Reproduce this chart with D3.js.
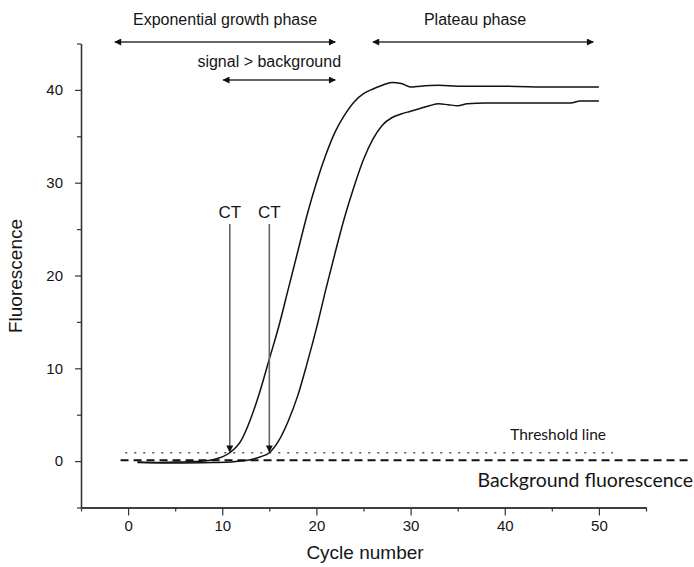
<!DOCTYPE html>
<html>
<head>
<meta charset="utf-8">
<script src="https://cdn.jsdelivr.net/npm/d3@7"></script>
<style>
  body { margin: 0; background: #fff; }
  text { font-family: "Liberation Sans", Arial, sans-serif; fill: #151515; }
</style>
</head>
<body>
<svg id="chart" width="694" height="567"></svg>
<script>
// cycle / fluorescence
const cycles1 = [1, 3, 5, 7, 8, 9, 10, 10.8, 12, 13, 14, 15, 16, 17, 18, 19, 20, 21, 22, 23, 24, 25, 26, 27, 28, 29, 30, 31, 33, 35, 40, 45, 50]
const fluor1 = [-0.1, -0.15, -0.1, -0.05, 0, 0.15, 0.45, 0.9, 2.2, 4.5, 7.5, 11, 14.5, 18.5, 22.5, 26.5, 30, 33, 35.5, 37.3, 38.7, 39.6, 40.1, 40.5, 40.8, 40.7, 40.3, 40.4, 40.5, 40.4, 40.4, 40.3, 40.3]

const cycles2 = [1, 5, 9, 11, 12, 13, 14, 15, 16, 17, 18, 19, 20, 21, 22, 23, 24, 25, 26, 27, 28, 29, 30, 31, 32, 33, 34, 35, 36, 38, 42, 47, 48, 50]
const fluor2 = [-0.15, -0.2, -0.15, -0.1, 0, 0.15, 0.45, 0.9, 2.2, 4.3, 7, 10.5, 14.3, 18.5, 22.5, 26.3, 29.6, 32.5, 34.7, 36.2, 37, 37.4, 37.7, 38, 38.3, 38.5, 38.4, 38.3, 38.5, 38.6, 38.6, 38.6, 38.8, 38.8]

const xMajor = [0, 10, 20, 30, 40, 50]
const xMinor = [-5, 5, 15, 25, 35, 45, 55]
const yMajor = [0, 10, 20, 30, 40]
const yMinor = [-5, 5, 15, 25, 35, 45]

const ctCycles = [10.8, 15]
const thresholdLevel = 0.9
const backgroundLevel = 0.1

const phaseLabels = ["Exponential growth phase", "Plateau phase", "signal > background"]
const phaseFrom = [-1.4, 26, 10.1]
const phaseTo = [22, 49.4, 22]

var svg = d3.select("#chart")

const x = d3.scaleLinear().domain([-5, 55]).range([81, 646])
const y = d3.scaleLinear().domain([-5, 45]).range([507.5, 43.5])

svg.append("rect").attr("width", 694).attr("height", 567).attr("fill", "#fff")

var defs = svg.append("defs")
defs.append("marker")
  .attr("id", "head")
  .attr("viewBox", "0 0 10 10")
  .attr("refX", 9).attr("refY", 5)
  .attr("markerWidth", 10).attr("markerHeight", 7)
  .attr("markerUnits", "userSpaceOnUse")
  .attr("orient", "auto-start-reverse")
  .append("path")
  .attr("d", "M0,0L10,5L0,10Z")
  .attr("fill", "#111")

// axes
svg.append("g").attr("transform", `translate(0,${y(-5)})`)
  .call(d3.axisBottom(x).tickValues(xMajor).tickSize(8).tickSizeOuter(0).tickPadding(5))
svg.append("g").attr("transform", `translate(0,${y(-5)})`)
  .call(d3.axisBottom(x).tickValues(xMinor).tickSize(4).tickSizeOuter(0).tickFormat(""))

svg.append("g").attr("transform", `translate(${x(-5)},0)`)
  .call(d3.axisLeft(y).tickValues(yMajor).tickSize(6).tickSizeOuter(0).tickPadding(12))
svg.append("g").attr("transform", `translate(${x(-5)},0)`)
  .call(d3.axisLeft(y).tickValues(yMinor).tickSize(4).tickSizeOuter(0).tickFormat(""))

svg.selectAll(".domain").attr("stroke", "#333").attr("stroke-width", 1.3)
svg.selectAll(".tick line").attr("stroke", "#333").attr("stroke-width", 1.2)
svg.selectAll(".tick text")
  .style("font-family", '"Liberation Sans", Arial, sans-serif')
  .style("font-size", "15px")
  .attr("fill", "#1a1a1a")

svg.append("text")
  .attr("x", 365).attr("y", 559)
  .attr("text-anchor", "middle")
  .style("font-size", "19px")
  .text("Cycle number")

svg.append("text")
  .attr("transform", "translate(22,276) rotate(-90)")
  .attr("text-anchor", "middle")
  .style("font-size", "19px")
  .text("Fluorescence")

// threshold + background
svg.append("line")
  .attr("x1", x(-0.3)).attr("x2", x(51.5))
  .attr("y1", y(thresholdLevel)).attr("y2", y(thresholdLevel))
  .attr("stroke", "#555").attr("stroke-width", 1.3)
  .attr("stroke-dasharray", "2,7")

svg.append("line")
  .attr("x1", x(-0.8)).attr("x2", x(59.7))
  .attr("y1", y(backgroundLevel)).attr("y2", y(backgroundLevel))
  .attr("stroke", "#111").attr("stroke-width", 2)
  .attr("stroke-dasharray", "8,5")

svg.append("text")
  .attr("x", 606).attr("y", 440)
  .attr("text-anchor", "end")
  .style("font-family", "Lato, sans-serif")
  .style("font-size", "15.5px")
  .text("Threshold line")

svg.append("text")
  .attr("x", 693).attr("y", 487)
  .attr("text-anchor", "end")
  .style("font-family", "Lato, sans-serif")
  .style("font-size", "19.5px")
  .text("Background fluorescence")

// curves
var line = d3.line()
  .x(d => x(d[0]))
  .y(d => y(d[1]))
  .curve(d3.curveMonotoneX)

svg.append("path")
  .datum(d3.zip(cycles1, fluor1))
  .attr("d", line)
  .attr("fill", "none").attr("stroke", "#111").attr("stroke-width", 1.5)

svg.append("path")
  .datum(d3.zip(cycles2, fluor2))
  .attr("d", line)
  .attr("fill", "none").attr("stroke", "#111").attr("stroke-width", 1.5)

// CT arrows
ctCycles.forEach(c => {
  svg.append("line")
    .attr("x1", x(c)).attr("x2", x(c))
    .attr("y1", 224).attr("y2", y(thresholdLevel) - 1)
    .attr("stroke", "#666").attr("stroke-width", 1.6)
    .attr("marker-end", "url(#head)")
  svg.append("text")
    .attr("x", x(c)).attr("y", 218)
    .attr("text-anchor", "middle")
    .style("font-size", "17px")
    .text("CT")
})

// phase arrows along the top
const rowY = [42, 42, 80]
const labelY = [25, 25, 67]
phaseLabels.forEach((lab, i) => {
  svg.append("line")
    .attr("x1", x(phaseFrom[i])).attr("x2", x(phaseTo[i]))
    .attr("y1", rowY[i]).attr("y2", rowY[i])
    .attr("stroke", "#666").attr("stroke-width", 2)
    .attr("marker-start", "url(#head)")
    .attr("marker-end", "url(#head)")
  svg.append("text")
    .attr("x", (x(phaseFrom[i]) + x(phaseTo[i])) / 2 + (i == 1 ? -8 : i == 2 ? -10 : 0))
    .attr("y", labelY[i])
    .attr("text-anchor", "middle")
    .style("font-size", "16px")
    .text(lab)
})
</script>
</body>
</html>
